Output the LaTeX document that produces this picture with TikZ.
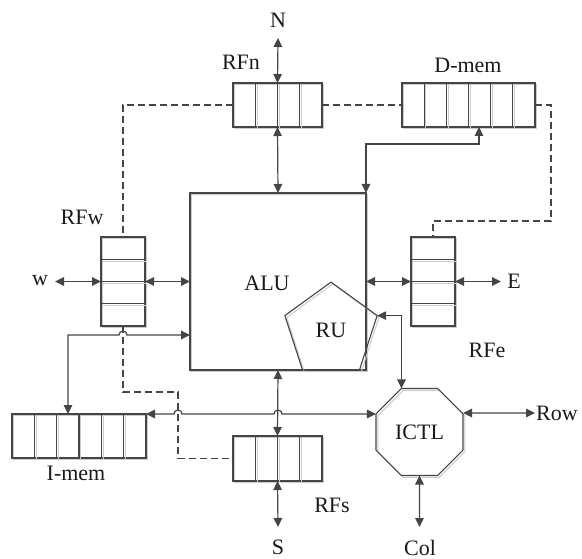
\documentclass[tikz,border=0pt]{standalone}
\usepackage{fontspec}
\setmainfont{Liberation Serif}
\usetikzlibrary{arrows.meta,shapes.geometric,calc}
\definecolor{dk}{HTML}{454545}
\definecolor{shc}{HTML}{CCCCCC}
\definecolor{tx}{HTML}{1A1A1A}
\begin{document}
\begin{tikzpicture}[x=1pt,y=-1pt,
  every node/.style={inner sep=0pt,outer sep=0pt},
  shd/.style={preaction={draw=shc,line width=1pt,transform canvas={shift={(1.8pt,-1.8pt)}}}},
  box/.style={shd,draw=dk,line width=1.1pt,rectangle},
  lbl/.style={text=tx,font=\fontsize{22}{26}\selectfont},
  con/.style={draw=dk,line width=1.2pt},
  biarr/.style={con,{Triangle[length=9pt,width=8.5pt]}-{Triangle[length=9pt,width=8.5pt]}},
  dsh/.style={draw=dk,line width=1.2pt,dash pattern=on 7pt off 4pt},
]
\useasboundingbox (0,0) rectangle (582,559);

% registers and units
\node[box,minimum width=89pt,minimum height=44pt] (rfn) at (277.5,105) {};
\node[box,minimum width=133pt,minimum height=44pt] (dmem) at (468.5,105) {};
\node[box,minimum width=176pt,minimum height=177pt] (alu) at (278,281.5) {};
\node[box,minimum width=44pt,minimum height=89pt] (rfw) at (123,281.5) {};
\node[box,minimum width=44pt,minimum height=89pt] (rfe) at (433,281.5) {};
\node[box,minimum width=134pt,minimum height=44pt] (imem) at (79,436) {};
\node[box,minimum width=89pt,minimum height=45pt] (rfs) at (277.5,458.5) {};
\node[shd,draw=dk,line width=1.1pt,regular polygon,regular polygon sides=5,minimum size=97pt,lbl] (ru) at (331,330.6) {RU};
\node[shd,draw=dk,line width=1.1pt,regular polygon,regular polygon sides=8,minimum size=94.2pt,lbl] (ictl) at (419.5,432) {ICTL};

% cell dividers
\foreach \n/\k in {rfn/4,dmem/6,imem/6,rfs/4}{
  \pgfmathtruncatemacro\m{\k-1}
  \foreach \i in {1,...,\m}{
    \draw[shd,con] ($(\n.north west)!\i/\k!(\n.north east)$) -- ($(\n.south west)!\i/\k!(\n.south east)$);
  }
}
\foreach \n in {rfw,rfe}{
  \foreach \i in {1,2,3}{
    \draw[shd,con] ($(\n.north west)!\i/4!(\n.south west)$) -- ($(\n.north east)!\i/4!(\n.south east)$);
  }
}

% labels
\node[lbl] (tN) at (278,20) {N};
\node[lbl] (tRFn) at (241,62) {RFn};
\node[lbl] (tDmem) at (468,65) {D-mem};
\node[lbl] (tRFw) at (82,217) {RFw};
\node[lbl] (tw) at (40,281) {w};
\node[lbl] (tE) at (514,281) {E};
\node[lbl] (tALU) at (267,283) {ALU};
\node[lbl] (tRFe) at (487,350) {RFe};
\node[lbl] (tRow) at (557,413) {Row};
\node[lbl] (tImem) at (76,473) {I-mem};
\node[lbl] (tRFs) at (332,505) {RFs};
\node[lbl] (tS) at (278,547) {S};
\node[lbl] (tCol) at (420,548) {Col};

% free ends
\coordinate (nN) at (278,38);
\coordinate (nW) at (55,281.5);
\coordinate (nE) at (501,281.5);
\coordinate (nRow) at (535,413);
\coordinate (nS) at (278,527);
\coordinate (nCol) at (419.5,527);

% dashed links
\draw[dsh] (rfn.west) -| (rfw.north);
\draw[dsh] (rfn.east) -- (dmem.west);
\draw[dsh] (dmem.east) -- ++(16,0) |- ($(rfe.north)+(0,-16)$) -- (rfe.north);
\draw[dsh] (rfw.south) -- ++(0,66) -| ($(rfs.west)+(-55,0)$) -- (rfs.west);

% solid arrows
\draw[biarr] (rfn.north) -- (nN);
\draw[biarr] (rfn.south) -- (alu.north);
\draw[biarr] ([xshift=10.5pt]dmem.south) -- ++(0,17) -| (alu.north east);
\draw[biarr] (rfw.west) -- (nW);
\draw[biarr] (rfw.east) -- (alu.west);
\draw[biarr] (alu.east) -- (rfe.west);
\draw[biarr] (rfe.east) -- (nE);
\draw[biarr] (alu.south) -- (rfs.north);
\draw[biarr] (rfs.south) -- (nS);
\draw[biarr] (ictl.south) -- (nCol);
\draw[biarr] ([yshift=19pt]ictl.east) -- (nRow);
\draw[biarr] (ru.corner 5) -| ([xshift=-18pt]ictl.north);
\draw[biarr] (alu.west |- 0,335) -- (127,335) arc[start angle=0,end angle=180,radius=4pt] -- (68,335) -- (imem.north -| 68,0);
\draw[biarr] (imem.north east) -- (174,414) arc[start angle=180,end angle=0,radius=4pt] -- (274,414) arc[start angle=180,end angle=0,radius=4pt] -- ([yshift=18pt]ictl.west);
\end{tikzpicture}
\end{document}
